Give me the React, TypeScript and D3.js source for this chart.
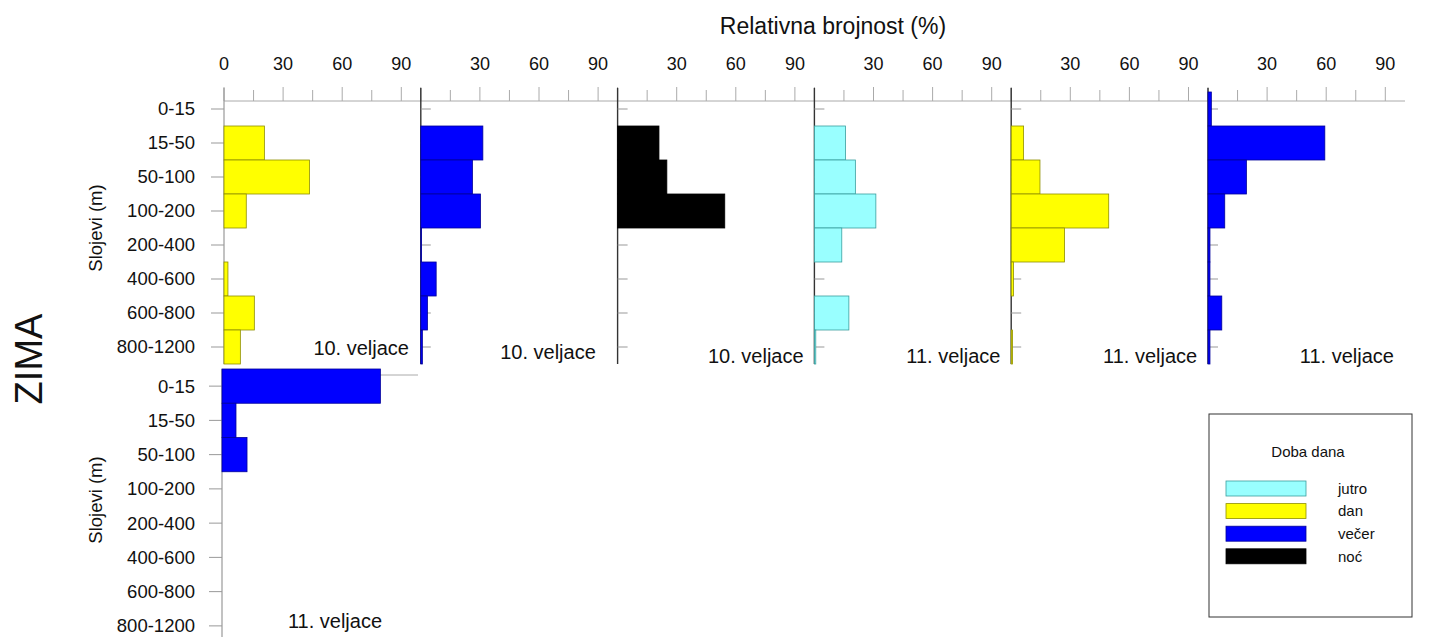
import * as d3 from "d3";

// depth layers (m)
const layers = ["0-15", "15-50", "50-100", "100-200", "200-400", "400-600", "600-800", "800-1200"];
const xTicks = [0, 15, 30, 45, 60, 75, 90];
const xTickLabels = [0, 30, 60, 90];

// time of day legend
const dobaNames = ["jutro", "dan", "večer", "noć"];
const dobaFill = ["#99ffff", "#ffff00", "#0000ff", "#000000"];
const dobaStroke = ["#3a9f9f", "#8f8f00", "#00009a", "#000000"];

// panels, top row then the one below
const panelDates = ["10. veljace", "10. veljace", "10. veljace", "11. veljace", "11. veljace", "11. veljace", "11. veljace"];
const panelDoba = ["dan", "večer", "noć", "jutro", "dan", "večer", "večer"];

const v10Dan = [0, 20.5, 43.4, 11.3, 0, 2, 15.4, 8.3];
const v10Vecer = [0, 31.5, 26.2, 30.3, 0.4, 7.8, 3.4, 0.8];
const v10Noc = [0, 21, 25, 54.4, 0, 0, 0, 0];
const v11Jutro = [0, 15.8, 20.8, 31.2, 13.9, 0, 17.5, 0.7];
const v11Dan = [0, 6.3, 14.6, 49.5, 27.1, 1.2, 0, 0.7];
const v11Vecer = [1.7, 59.3, 19.5, 8.5, 1, 1, 7, 1];
const v11VecerB = [80.4, 7.1, 12.7, 0, 0, 0, 0, 0];

const panelValues = [v10Dan, v10Vecer, v10Noc, v11Jutro, v11Dan, v11Vecer, v11VecerB];

const FONT = "'Liberation Sans', Arial, sans-serif";
const panelW = 197;
const topRow = { left: 224, top: 92, bottom: 364, axisY: 101 };
const botRow = { left: 222, top: 369, bottom: 643, axisY: 375 };

function Panel({ idx, x0, row, showTickLabels, first }) {
  const values = panelValues[idx];
  const di = dobaNames.indexOf(panelDoba[idx]);
  const x = d3.scaleLinear().domain([0, 100]).range([x0, x0 + panelW]);
  const y = d3.scaleBand<string>().domain(layers).range([row.top, row.bottom]).padding(0);
  const axisColor = first ? "#999" : "#333";
  const isBottom = row === botRow;
  return (
    <g>
      {/* top axis */}
      {showTickLabels && xTicks.map((t) => (
        <line key={"t" + t} x1={x(t)} x2={x(t)} y1={row.axisY - (t % 30 === 0 ? 14 : 11)} y2={row.axisY} stroke="#aaa" />
      ))}
      {showTickLabels && xTickLabels.filter((t) => first || t > 0).map((t) => (
        <text key={"l" + t} x={x(t)} y={70} textAnchor="middle" fontSize={18} fontFamily={FONT} fill="#111">{t}</text>
      ))}
      {isBottom && <line x1={x(0)} x2={x(0) + panelW - 1} y1={row.axisY} y2={row.axisY} stroke="#aaa" />}
      {/* y axis */}
      <line x1={x(0)} x2={x(0)} y1={isBottom ? row.top : row.axisY - 13} y2={isBottom ? 637 : row.bottom} stroke={first ? "#999" : axisColor} strokeWidth={first ? 1.2 : 1.4} />
      {layers.map((l) => {
        const cy = y(l)! + y.bandwidth() / 2;
        return first ? (
          <g key={l}>
            <line x1={x(0) - 13} x2={x(0)} y1={cy} y2={cy} stroke="#999" />
            <text x={195} y={cy} dy="0.35em" textAnchor="end" fontSize={18.5} fontFamily={FONT} fill="#111">{l}</text>
          </g>
        ) : (
          <line key={l} x1={x(0)} x2={x(0) + 10} y1={cy} y2={cy} stroke="#999" />
        );
      })}
      {/* bars */}
      {values.map((v, i) => v > 0 ? (
        <rect key={i} x={x(0)} y={y(layers[i])} width={x(v) - x(0)} height={y.bandwidth()}
          fill={dobaFill[di]} stroke={dobaStroke[di]} strokeWidth={0.8} />
      ) : null)}
      {/* date */}
      {isBottom ? (
        <text x={335} y={628} textAnchor="middle" fontSize={20} fontFamily={FONT} fill="#111">{panelDates[idx]}</text>
      ) : (
        <text x={x(0) + panelW - (first ? 12 : idx === 1 ? 22 : 11)} y={idx < 2 ? 355 + idx * 4 : 363} textAnchor="end" fontSize={20} fontFamily={FONT} fill="#111">{panelDates[idx]}</text>
      )}
    </g>
  );
}

export default function App() {
  const W = 1429;
  const H = 637;
  const topIdx = [0, 1, 2, 3, 4, 5];
  return (
    <svg width={W} height={H} style={{ position: "absolute", left: 0, top: 0, background: "#fff" }}>
      <rect width={W} height={H} fill="#fff" />
      <text x={833} y={34} textAnchor="middle" fontSize={23} fontFamily={FONT} fill="#111">Relativna brojnost (%)</text>
      <line x1={topRow.left} x2={1405} y1={topRow.axisY} y2={topRow.axisY} stroke="#aaa" />
      {topIdx.map((i) => (
        <Panel key={i} idx={i} x0={topRow.left + i * 196.8} row={topRow} showTickLabels first={i === 0} />
      ))}
      <Panel idx={6} x0={botRow.left} row={botRow} showTickLabels={false} first />

      <text transform="translate(102,228) rotate(-90)" textAnchor="middle" fontSize={18.5} fontFamily={FONT} fill="#111">Slojevi (m)</text>
      <text transform="translate(102,500) rotate(-90)" textAnchor="middle" fontSize={18.5} fontFamily={FONT} fill="#111">Slojevi (m)</text>
      <text transform="translate(42,359) rotate(-90)" textAnchor="middle" fontSize={38} fontFamily={FONT} fill="#111">ZIMA</text>

      {/* legend */}
      <rect x={1209} y={414} width={203} height={203} fill="#fff" stroke="#333" />
      <text x={1308} y={457} textAnchor="middle" fontSize={15} fontFamily={FONT} fill="#111">Doba dana</text>
      {dobaNames.map((n, i) => (
        <g key={n}>
          <rect x={1226} y={481 + i * 22.6} width={80} height={15} fill={dobaFill[i]} stroke={dobaStroke[i]} strokeWidth={0.8} />
          <text x={1338} y={481 + i * 22.6 + 7.5} dy="0.35em" fontSize={15} fontFamily={FONT} fill="#111">{n}</text>
        </g>
      ))}
    </svg>
  );
}
